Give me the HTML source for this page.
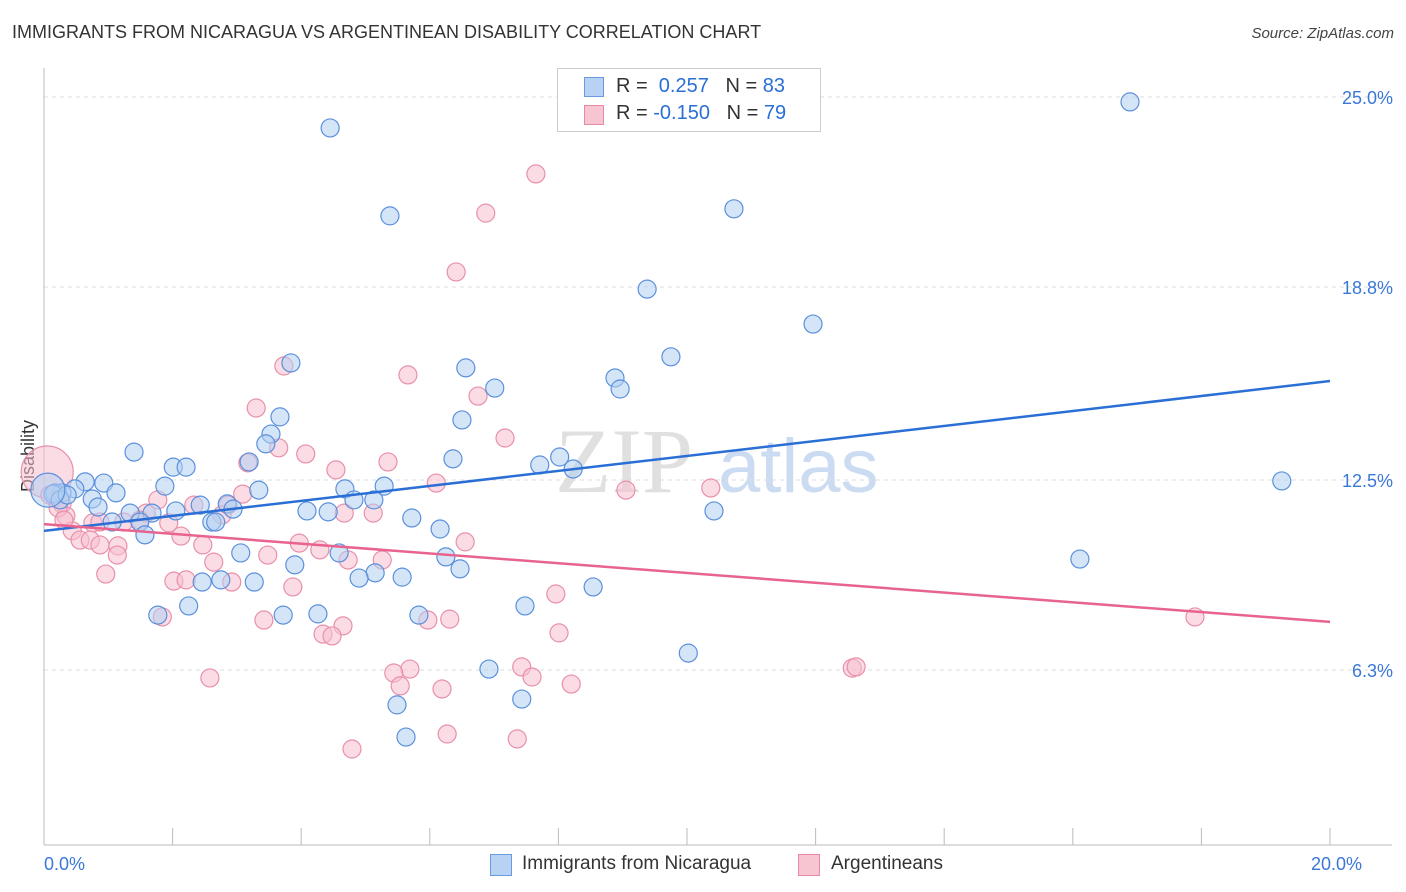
<!DOCTYPE html>
<html><head><meta charset="utf-8"><style>
body{margin:0;background:#fff;font-family:"Liberation Sans",sans-serif;}
#wrap{position:relative;width:1406px;height:892px;overflow:hidden;}
.t{position:absolute;white-space:nowrap;}
</style></head><body>
<div id="wrap">
<div class="t" style="left:12px;top:22px;font-size:18px;color:#333;">IMMIGRANTS FROM NICARAGUA VS ARGENTINEAN DISABILITY CORRELATION CHART</div>
<div class="t" style="right:12px;top:25px;font-size:15px;color:#444;font-style:italic;">Source: ZipAtlas.com</div>
<svg id="svg" width="1406" height="892" style="position:absolute;left:0;top:0">
<text x="555" y="492" font-family="Liberation Serif" font-size="92" fill="#ccc" opacity="0.6">ZIP</text>
<text x="718" y="492" font-family="Liberation Sans" font-size="76" fill="#a9c6ea" opacity="0.6">atlas</text>
</svg>
<div style="position:absolute;left:557px;top:68px;width:262px;height:62px;border:1px solid #ccc;background:#fff;font-size:20px;color:#333;">
<div style="position:absolute;left:26px;top:8px;width:18px;height:18px;background:#b8d2f3;border:1px solid #6a9be0;"></div>
<div class="t" style="left:58px;top:6px;">R = &nbsp;<span style="color:#2a6fd6">0.257</span> &nbsp;&nbsp;N = <span style="color:#2a6fd6">83</span></div>
<div style="position:absolute;left:26px;top:36px;width:18px;height:18px;background:#f7c4d2;border:1px solid #e88aa5;"></div>
<div class="t" style="left:58px;top:33px;">R = <span style="color:#2a6fd6">-0.150</span> &nbsp;&nbsp;N = <span style="color:#2a6fd6">79</span></div>
</div>
<div style="position:absolute;left:490px;top:853px;font-size:19px;color:#333;">
<div style="position:absolute;left:0;top:1px;width:20px;height:20px;background:#b8d2f3;border:1px solid #6a9be0;"></div>
<div class="t" style="left:32px;top:0">Immigrants from Nicaragua</div>
<div style="position:absolute;left:308px;top:1px;width:20px;height:20px;background:#f7c4d2;border:1px solid #e88aa5;"></div>
<div class="t" style="left:341px;top:0">Argentineans</div>
</div>
</div>
<script>
const yTicks=[25.0,18.8,12.5,6.3];
const yTickLabels=["25.0%","18.8%","12.5%","6.3%"];
const xTickLabels=["0.0%","20.0%"];
const blueX=[4.45,5.38,10.73,16.89,9.38,11.96,9.75,3.84,6.56,8.88,8.96,7.01,3.67,6.50,3.53,3.45,1.40,3.19,6.36,8.02,7.71,8.23,2.01,2.21,19.25,0.64,0.93,0.48,1.88,3.34,4.68,5.29,1.12,0.28,0.75,0.17,2.43,2.85,4.82,5.13,2.94,4.09,4.42,0.84,2.05,1.68,1.34,10.42,5.72,2.61,2.67,1.06,1.49,1.57,6.16,3.06,4.59,6.25,16.11,3.90,5.15,4.90,5.57,6.47,2.46,2.75,3.27,8.54,2.25,1.77,7.48,4.26,5.83,3.72,10.02,6.92,7.43,5.49,5.63,0.14,0.25,0.36,0.06];
const blueY=[23.99,21.12,21.35,24.84,18.73,17.59,16.52,16.32,16.16,15.83,15.47,15.50,14.56,14.46,14.00,13.68,13.41,13.09,13.19,13.25,12.99,12.86,12.92,12.92,12.47,12.44,12.40,12.21,12.30,12.17,12.21,12.30,12.08,12.08,11.88,12.08,11.68,11.72,11.85,11.85,11.55,11.49,11.46,11.62,11.49,11.42,11.42,11.49,11.26,11.13,11.13,11.13,11.13,10.71,10.90,10.12,10.12,9.99,9.92,9.73,9.47,9.30,9.33,9.60,9.17,9.24,9.17,9.01,8.39,8.09,8.39,8.13,8.09,8.09,6.85,6.33,5.35,5.16,4.11,12.04,11.85,12.01,12.17];
const pinkX=[7.65,6.87,6.41,3.73,5.66,6.75,3.30,7.17,3.65,4.07,3.17,5.35,4.54,6.10,9.05,10.37,3.09,1.77,2.33,2.86,4.67,5.12,2.77,0.28,0.17,0.34,0.76,1.24,1.59,1.94,2.13,0.44,0.56,0.72,0.87,1.15,3.97,2.47,6.55,4.29,4.73,5.26,3.48,1.14,2.64,0.96,2.02,2.21,2.92,3.87,7.96,17.90,1.84,3.42,4.65,5.97,6.31,4.34,4.48,8.01,7.43,12.57,12.63,5.69,5.44,5.54,7.59,2.58,8.20,6.19,6.27,4.79,7.36,0.05,0.09,0.22,0.31,0.87,1.49];
const pinkY=[22.49,21.21,19.29,16.22,15.93,15.24,14.85,13.87,13.55,13.35,13.06,13.09,12.83,12.40,12.17,12.24,12.04,11.85,11.68,11.68,11.42,11.42,11.36,11.72,11.91,11.33,11.10,11.13,11.42,11.10,10.67,10.84,10.54,10.54,10.38,10.35,10.44,10.38,10.48,10.22,9.89,9.89,10.05,10.05,9.82,9.43,9.20,9.24,9.17,9.01,8.78,8.03,8.03,7.93,7.74,7.93,7.96,7.47,7.41,7.51,6.40,6.36,6.40,6.33,6.20,5.78,6.07,6.04,5.84,5.68,4.21,3.72,4.05,12.76,12.01,11.59,11.19,11.13,11.19];
const blueTrend=[10.84,15.73];
const pinkTrend=[11.06,7.87];
const xScale=v=>44+v*64.3;
const yScale=v=>863-v*30.64;
const NS="http://www.w3.org/2000/svg";
const svg=document.getElementById('svg');
function mk(tag,attrs,parent){const e=document.createElementNS(NS,tag);for(const k in attrs)e.setAttribute(k,attrs[k]);(parent||svg).appendChild(e);return e;}
yTicks.forEach((t,i)=>{
 const g=mk('line',{x1:44,x2:1392,y1:yScale(t),y2:yScale(t),stroke:'#ddd','stroke-dasharray':'4,4'});
 
 
 const tx=mk('text',{x:1393,y:yScale(t)+7,'text-anchor':'end','font-size':18,fill:'#3a78d8','font-family':'Liberation Sans'});
 tx.textContent=yTickLabels[i];
 
 
});
const ax=mk('line',{x1:44,x2:44,y1:68,y2:845,stroke:'#bbb'});


const bx=mk('line',{x1:44,x2:1392,y1:845,y2:845,stroke:'#bbb'});


for(let i=0;i<=10;i++){
 const tk=mk('line',{x1:xScale(i*2),x2:xScale(i*2),y1:828,y2:845,stroke:'#bbb'});
 
 
}
[[0,'start'],[20,'end']].forEach((p,i)=>{
 const tx=mk('text',{x:xScale(p[0])+(i?32:0),y:870,'text-anchor':p[1],'font-size':18,fill:'#3a78d8','font-family':'Liberation Sans'});
 tx.textContent=xTickLabels[i];
 
 
});
const yt=mk('text',{x:34,y:456,'text-anchor':'middle','font-size':18,fill:'#333','font-family':'Liberation Sans',transform:'rotate(-90 34 456)'});
yt.textContent='Disability';


pinkX.forEach((v,i)=>{
 const r=i===73?26:9;
 const c=mk('circle',{cx:xScale(v),cy:yScale(pinkY[i]),r:r,fill:'#f7c0cf','fill-opacity':0.55,stroke:'#e890aa','stroke-width':1.2});
 
 
});
blueX.forEach((v,i)=>{
 const r=i===82?17:9;
 const c=mk('circle',{cx:xScale(v),cy:yScale(blueY[i]),r:r,fill:'#b3cff2','fill-opacity':0.55,stroke:'#5b90dc','stroke-width':1.2});
 
 
});
const bl=mk('line',{x1:xScale(0),x2:xScale(20),y1:yScale(blueTrend[0]),y2:yScale(blueTrend[1]),stroke:'#2a6fd6','stroke-width':2.5});


const pl=mk('line',{x1:xScale(0),x2:xScale(20),y1:yScale(pinkTrend[0]),y2:yScale(pinkTrend[1]),stroke:'#e8648e','stroke-width':2.5});


</script>
</body></html>
